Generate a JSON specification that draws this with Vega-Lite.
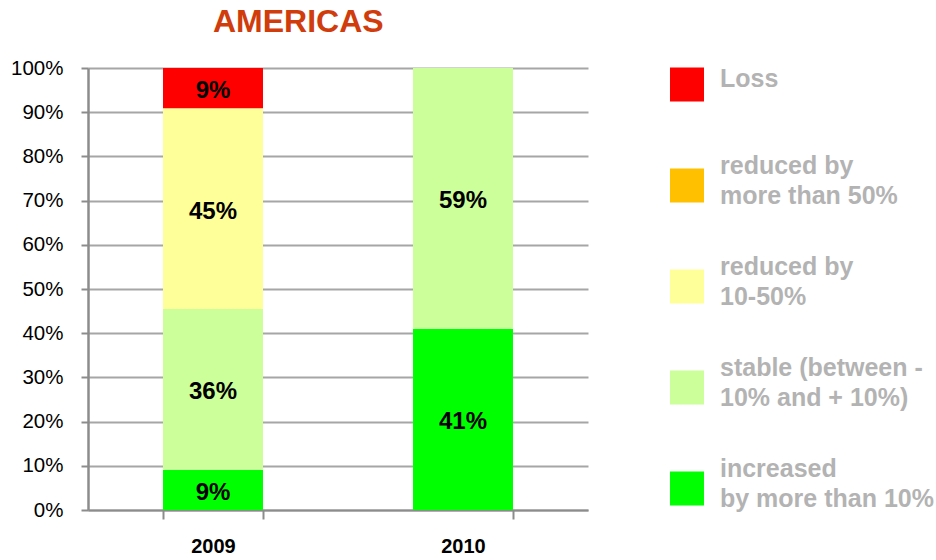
{
  "$schema": "https://vega.github.io/schema/vega-lite/v6.json",
  "width": 500,
  "height": 442,
  "autosize": {"type": "none"},
  "padding": {"left": 88, "top": 68, "right": 348, "bottom": 50},
  "background": "white",
  "config": {"font": "Liberation Sans", "view": {"stroke": null}},
  "title": {
    "text": "AMERICAS",
    "anchor": "start",
    "frame": "group",
    "dx": 125,
    "fontSize": 32,
    "font": "Liberation Sans",
    "fontWeight": "bold",
    "color": "#D03C0C",
    "offset": -5
  },
  "data": {
    "values": [
      {"year": "2009", "category": "increased\nby more than 10%", "share": 0.09, "rank": 1},
      {"year": "2009", "category": "stable (between -\n10% and + 10%)", "share": 0.36, "rank": 2},
      {"year": "2009", "category": "reduced by\n10-50%", "share": 0.45, "rank": 3},
      {"year": "2009", "category": "Loss", "share": 0.09, "rank": 5},
      {"year": "2010", "category": "increased\nby more than 10%", "share": 0.41, "rank": 1},
      {"year": "2010", "category": "stable (between -\n10% and + 10%)", "share": 0.59, "rank": 2}
    ]
  },
  "transform": [
    {"stack": "share", "groupby": ["year"], "sort": [{"field": "rank", "order": "ascending"}], "offset": "normalize", "as": ["lo", "hi"]}
  ],
  "encoding": {
    "x": {
      "field": "year",
      "type": "nominal",
      "scale": {"paddingInner": 0.6, "paddingOuter": 0.3},
      "axis": {
        "title": null,
        "labelAngle": 0,
        "labelFontSize": 20,
        "labelFontWeight": "bold",
        "labelColor": "#000000",
        "labelPadding": 17,
        "tickBand": "extent",
        "tickSize": 9,
        "tickColor": "#8c8c8c",
        "tickWidth": 2,
        "domainColor": "#8c8c8c",
        "domainWidth": 2,
        "grid": false
      }
    }
  },
  "layer": [
    {
      "mark": {"type": "bar"},
      "encoding": {
        "y": {
          "field": "lo",
          "type": "quantitative",
          "scale": {"domain": [0, 1]},
          "axis": {
            "title": null,
            "format": ".0%",
            "values": [0, 0.1, 0.2, 0.3, 0.4, 0.5, 0.6, 0.7, 0.8, 0.9, 1],
            "labelFontSize": 20.5,
            "labelColor": "#000000",
            "labelPadding": 18,
            "tickSize": 7,
            "tickColor": "#8c8c8c",
            "tickWidth": 2,
            "domainColor": "#8c8c8c",
            "domainWidth": 2.5,
            "gridColor": "#a6a6a6",
            "gridWidth": 2
          }
        },
        "y2": {"field": "hi"},
        "color": {
          "field": "category",
          "type": "nominal",
          "scale": {
            "domain": ["Loss", "reduced by\nmore than 50%", "reduced by\n10-50%", "stable (between -\n10% and + 10%)", "increased\nby more than 10%"],
            "range": ["#FF0000", "#FFC000", "#FFFF99", "#CCFF99", "#00FF00"]
          },
          "legend": {
            "title": null,
            "orient": "none",
            "legendX": 582,
            "legendY": -34,
            "symbolType": "square",
            "symbolSize": 1156,
            "symbolStrokeWidth": 0,
            "symbolOpacity": 1,
            "labelFont": "Liberation Sans",
            "labelFontSize": 25,
            "labelFontWeight": "bold",
            "labelColor": "#B3B3B3",
            "labelOffset": 16,
            "labelLimit": 400,
            "clipHeight": 101,
            "rowPadding": 0,
            "labelExpr": "split(datum.label, '\\n')",
            "encode": {
              "labels": {"update": {"lineHeight": {"value": 30}, "dy": {"signal": "datum.value === 'Loss' ? -6 : -20"}}},
              "symbols": {"update": {"fill": {"signal": "indexof(datum.value, 'stable') === 0 ? '#CCFF66' : scale('color', datum.value)"}}}
            }
          }
        }
      }
    },
    {
      "transform": [
        {"fold": ["lo", "hi"], "as": ["edge", "pos"]},
        {"aggregate": [{"op": "mean", "field": "pos", "as": "mid"}], "groupby": ["year", "category", "share"]}
      ],
      "mark": {"type": "text", "fontSize": 24, "fontWeight": "bold", "color": "#000000", "baseline": "middle", "dy": 3},
      "encoding": {
        "y": {"field": "mid", "type": "quantitative"},
        "text": {"field": "share", "type": "quantitative", "format": ".0%"}
      }
    }
  ]
}
